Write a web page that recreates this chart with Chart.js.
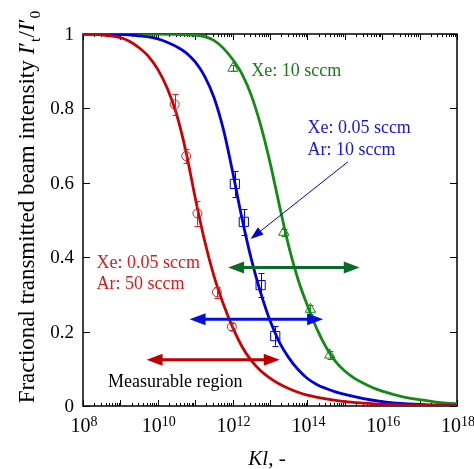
<!DOCTYPE html>
<html>
<head>
<meta charset="utf-8">
<script src="https://cdn.jsdelivr.net/npm/chart.js@4"></script>
<style>
  html, body { margin: 0; padding: 0; background: #fff; }
</style>
</head>
<body>
<canvas id="chart" width="474" height="469"></canvas>
<script>
// Beam transmission vs Kl for three gas conditions

// x axis: log10(Kl) range and labelled decades
const xMinExp = 8;
const xMaxExp = 18;
const xLabelExps = [8, 10, 12, 14, 16, 18];
const yTicks = [0, 0.2, 0.4, 0.6, 0.8, 1];
const yTickLabels = ['0', '0.2', '0.4', '0.6', '0.8', '1'];

// fitted curves (log10 Kl, I't/I'0)
const redCurveExp = [8, 8.5, 9, 9.25, 9.5, 9.75, 10, 10.25, 10.5, 10.75, 11, 11.25, 11.5, 11.75, 12, 12.25, 12.5, 12.75, 13, 13.25, 13.5, 13.75, 14, 14.5, 15, 15.5, 16, 17, 18];
const redCurveY   = [1.0, 0.998, 0.99, 0.98, 0.963, 0.94, 0.905, 0.855, 0.785, 0.685, 0.56, 0.445, 0.35, 0.275, 0.212, 0.16, 0.122, 0.095, 0.075, 0.059, 0.047, 0.037, 0.029, 0.019, 0.012, 0.008, 0.005, 0.002, 0.001];

const blueCurveExp = [8, 9, 9.5, 9.75, 10, 10.25, 10.5, 10.75, 11, 11.25, 11.5, 11.75, 12, 12.25, 12.5, 12.75, 13, 13.25, 13.5, 13.75, 14, 14.25, 14.5, 14.75, 15, 15.5, 16, 16.5, 17, 17.5, 18];
const blueCurveY   = [1.0, 0.999, 0.995, 0.992, 0.987, 0.978, 0.966, 0.95, 0.925, 0.887, 0.83, 0.745, 0.63, 0.505, 0.395, 0.305, 0.23, 0.172, 0.13, 0.098, 0.074, 0.058, 0.047, 0.038, 0.031, 0.02, 0.012, 0.007, 0.004, 0.002, 0.001];

const greenCurveExp = [8, 10, 10.5, 11, 11.25, 11.5, 11.75, 12, 12.25, 12.5, 12.75, 13, 13.25, 13.5, 13.75, 14, 14.25, 14.5, 14.75, 15, 15.25, 15.5, 15.75, 16, 16.5, 17, 17.5, 18];
const greenCurveY   = [1.0, 1.0, 0.999, 0.997, 0.993, 0.983, 0.962, 0.932, 0.893, 0.835, 0.755, 0.655, 0.54, 0.43, 0.34, 0.27, 0.208, 0.158, 0.12, 0.094, 0.075, 0.061, 0.049, 0.04, 0.026, 0.017, 0.01, 0.006];

// measured points with error bars
const redPointExp = [10.45, 10.76, 11.06, 11.58, 11.98];
const redPointY   = [0.811, 0.672, 0.518, 0.306, 0.213];
const redPointErr = [0.028, 0.02, 0.033, 0.015, 0.01];

const bluePointExp = [12.06, 12.30, 12.75, 13.14];
const bluePointY   = [0.597, 0.495, 0.325, 0.188];
const bluePointErr = [0.034, 0.034, 0.032, 0.026];

const greenPointExp = [12.01, 13.37, 14.08, 14.60];
const greenPointY   = [0.908, 0.467, 0.26, 0.137];
const greenPointErr = [0.008, 0.01, 0.012, 0.01];

// measurable regions: [from, to] in log10 Kl, at height y
const regionExp = { green: [11.88, 15.40], blue: [10.85, 14.42], red: [9.70, 13.26] };
const regionY   = { green: 0.372, blue: 0.233, red: 0.124 };

const colors = {
  red: '#cc0000',
  redMark: '#d42020',
  redArrow: '#c00000',
  blue: '#0000dd',
  blueArrow: '#0010e0',
  green: '#138a13',
  greenArrow: '#0b6a26',
  greenText: '#1a7a1a',
  redText: '#d81c1c',
  blueText: '#1818d8'
};

const serif = '"Liberation Serif", "Times New Roman", serif';

const toXY = (exps, ys) => exps.map((e, i) => ({ x: Math.pow(10, e), y: ys[i] }));

function curveSet(exps, ys, color) {
  return {
    data: toXY(exps, ys),
    showLine: true,
    borderColor: color,
    borderWidth: 2.8,
    pointRadius: 0,
    cubicInterpolationMode: 'monotone',
    fill: false,
    order: 0
  };
}

function pointSet(exps, ys, errs, color, style, radius) {
  return {
    data: toXY(exps, ys),
    errors: errs,
    showLine: false,
    pointStyle: style,
    pointRadius: radius,
    borderColor: color,
    backgroundColor: 'rgba(0,0,0,0)',
    pointBorderWidth: 1,
    order: 1
  };
}

// frame and inward ticks, under the curves
const frameTicks = {
  id: 'frameTicks',
  beforeDatasetsDraw(chart) {
    const { ctx, chartArea: a, scales: { x, y } } = chart;
    ctx.save();
    ctx.strokeStyle = '#000';
    ctx.lineWidth = 1;
    ctx.beginPath();
    for (let e = xMinExp; e <= xMaxExp; e++) {
      const px = Math.round(x.getPixelForValue(Math.pow(10, e))) + 0.5;
      ctx.moveTo(px, a.bottom); ctx.lineTo(px, a.bottom - 6);
      ctx.moveTo(px, a.top); ctx.lineTo(px, a.top + 6);
      if (e === xMaxExp) break;
      for (let k = 2; k < 10; k++) {
        const pm = Math.round(x.getPixelForValue(k * Math.pow(10, e))) + 0.5;
        ctx.moveTo(pm, a.bottom); ctx.lineTo(pm, a.bottom - 3);
        ctx.moveTo(pm, a.top); ctx.lineTo(pm, a.top + 3);
      }
    }
    yTicks.forEach(v => {
      const py = Math.round(y.getPixelForValue(v)) + 0.5;
      ctx.moveTo(a.left, py); ctx.lineTo(a.left + 7, py);
      ctx.moveTo(a.right, py); ctx.lineTo(a.right - 7, py);
    });
    ctx.stroke();
    ctx.lineWidth = 1.5;
    ctx.strokeRect(a.left, a.top, a.right - a.left, a.bottom - a.top);
    ctx.restore();
  }
};

// error bars for the measured points
const errorBars = {
  id: 'errorBars',
  afterDatasetsDraw(chart) {
    const { ctx, scales: { y } } = chart;
    ctx.save();
    ctx.lineWidth = 1;
    chart.data.datasets.forEach((ds, i) => {
      if (!ds.errors) return;
      const meta = chart.getDatasetMeta(i);
      ctx.strokeStyle = ds.borderColor;
      meta.data.forEach((pt, j) => {
        const v = ds.data[j].y, e = ds.errors[j];
        const top = y.getPixelForValue(v + e), bot = y.getPixelForValue(v - e);
        const px = Math.round(pt.x) + 0.5;
        ctx.beginPath();
        ctx.moveTo(px, top); ctx.lineTo(px, bot);
        ctx.moveTo(px - 3, Math.round(top) + 0.5); ctx.lineTo(px + 3, Math.round(top) + 0.5);
        ctx.moveTo(px - 3, Math.round(bot) + 0.5); ctx.lineTo(px + 3, Math.round(bot) + 0.5);
        ctx.stroke();
      });
    });
    ctx.restore();
  }
};

function arrowHead(ctx, x0, y0, x1, y1, len, half) {
  const ang = Math.atan2(y1 - y0, x1 - x0);
  ctx.beginPath();
  ctx.moveTo(x1, y1);
  ctx.lineTo(x1 - len * Math.cos(ang) + half * Math.sin(ang), y1 - len * Math.sin(ang) - half * Math.cos(ang));
  ctx.lineTo(x1 - len * Math.cos(ang) - half * Math.sin(ang), y1 - len * Math.sin(ang) + half * Math.cos(ang));
  ctx.closePath();
  ctx.fill();
}

// text with italic / subscript pieces: [text, style]
function richWidth(ctx, parts, size) {
  let w = 0;
  parts.forEach(([t, s]) => {
    const fs = s === 'sub' ? size * 0.68 : size;
    ctx.font = (s === 'i' ? 'italic ' : '') + fs + 'px ' + serif;
    w += ctx.measureText(t).width;
  });
  return w;
}
function richText(ctx, parts, x, y, size) {
  parts.forEach(([t, s]) => {
    const fs = s === 'sub' ? size * 0.68 : size;
    ctx.font = (s === 'i' ? 'italic ' : '') + fs + 'px ' + serif;
    const dy = s === 'sub' ? size * 0.28 : 0;
    ctx.fillText(t, x, y + dy);
    x += ctx.measureText(t).width;
  });
}

const annotations = {
  id: 'annotations',
  afterDatasetsDraw(chart) {
    const { ctx, scales: { x, y } } = chart;
    const X = e => x.getPixelForValue(Math.pow(10, e));
    ctx.save();

    // measurable region double arrows
    [['green', colors.greenArrow], ['blue', colors.blueArrow], ['red', colors.redArrow]].forEach(([k, c]) => {
      const x0 = X(regionExp[k][0]), x1 = X(regionExp[k][1]), py = y.getPixelForValue(regionY[k]);
      ctx.strokeStyle = c; ctx.fillStyle = c; ctx.lineWidth = 3;
      ctx.beginPath();
      ctx.moveTo(x0 + 10, py); ctx.lineTo(x1 - 10, py);
      ctx.stroke();
      arrowHead(ctx, x1, py, x0, py, 16, 6);
      arrowHead(ctx, x0, py, x1, py, 16, 6);
    });

    // thin pointer to the blue curve
    const sx = X(15.09), sy = y.getPixelForValue(0.657);
    const ex = X(12.48), ey = y.getPixelForValue(0.449);
    ctx.strokeStyle = colors.blue; ctx.fillStyle = colors.blue; ctx.lineWidth = 1;
    ctx.beginPath();
    ctx.moveTo(sx, sy);
    ctx.lineTo(ex + (sx - ex) * 0.08, ey + (sy - ey) * 0.08);
    ctx.stroke();
    arrowHead(ctx, sx, sy, ex, ey, 13, 4.5);

    // condition labels
    ctx.textBaseline = 'middle';
    ctx.textAlign = 'left';
    ctx.font = '18px ' + serif;
    ctx.fillStyle = colors.greenText;
    ctx.fillText('Xe: 10 sccm', X(12.50), y.getPixelForValue(0.90));
    ctx.fillStyle = colors.blueText;
    ctx.fillText('Xe: 0.05 sccm', X(14.0), y.getPixelForValue(0.747));
    ctx.fillText('Ar: 10 sccm', X(14.0), y.getPixelForValue(0.688));
    ctx.fillStyle = colors.redText;
    ctx.fillText('Xe: 0.05 sccm', X(8.36), y.getPixelForValue(0.384));
    ctx.fillText('Ar: 50 sccm', X(8.36), y.getPixelForValue(0.327));
    ctx.fillStyle = '#000';
    ctx.fillText('Measurable region', X(8.67), y.getPixelForValue(0.064));
    ctx.restore();
  }
};

// tick labels and axis titles
const axisText = {
  id: 'axisText',
  afterDraw(chart) {
    const { ctx, chartArea: a, scales: { x, y } } = chart;
    ctx.save();
    ctx.fillStyle = '#000';

    ctx.font = '19px ' + serif;
    ctx.textAlign = 'right';
    ctx.textBaseline = 'middle';
    yTicks.forEach((v, i) => ctx.fillText(yTickLabels[i], a.left - 9, y.getPixelForValue(v) + 1));

    ctx.textAlign = 'left';
    ctx.textBaseline = 'alphabetic';
    xLabelExps.forEach(e => {
      ctx.font = '20px ' + serif;
      const wBase = ctx.measureText('10').width;
      ctx.font = '14px ' + serif;
      const wExp = ctx.measureText(String(e)).width;
      const left = x.getPixelForValue(Math.pow(10, e)) - (wBase + wExp) / 2 + 1;
      ctx.font = '20px ' + serif;
      ctx.fillText('10', left, a.bottom + 26);
      ctx.font = '14px ' + serif;
      ctx.fillText(String(e), left + wBase, a.bottom + 20);
    });

    // x title
    const xt = [['Kl', 'i'], [', -', '']];
    const wx = richWidth(ctx, xt, 21);
    richText(ctx, xt, (a.left + a.right) / 2 - wx / 2 - 3, 465, 21);

    // y title, rotated
    const yt = [['Fractional transmitted beam intensity ', ''], ['I', 'i'], ['\u2032', ''], ['t', 'sub'],
                ['/', ''], ['I', 'i'], ['\u2032', ''], ['0', 'sub']];
    const wy = richWidth(ctx, yt, 23);
    ctx.translate(34, 207);
    ctx.rotate(-Math.PI / 2);
    richText(ctx, yt, -wy / 2, 0, 23);
    ctx.restore();
  }
};

new Chart(document.getElementById('chart'), {
  type: 'scatter',
  data: {
    datasets: [
      curveSet(redCurveExp, redCurveY, colors.red),
      curveSet(blueCurveExp, blueCurveY, colors.blue),
      curveSet(greenCurveExp, greenCurveY, colors.green),
      pointSet(redPointExp, redPointY, redPointErr, colors.redMark, 'circle', 4.5),
      pointSet(bluePointExp, bluePointY, bluePointErr, colors.blue, 'rect', 6.5),
      pointSet(greenPointExp, greenPointY, greenPointErr, colors.green, 'triangle', 6)
    ]
  },
  options: {
    responsive: false,
    animation: false,
    events: [],
    layout: { padding: { left: 83, right: 17, top: 34, bottom: 63 } },
    plugins: { legend: { display: false }, tooltip: { enabled: false } },
    scales: {
      x: { type: 'logarithmic', min: Math.pow(10, xMinExp), max: Math.pow(10, xMaxExp), display: false },
      y: { type: 'linear', min: 0, max: 1, display: false }
    }
  },
  plugins: [frameTicks, errorBars, annotations, axisText]
});
</script>
</body>
</html>
